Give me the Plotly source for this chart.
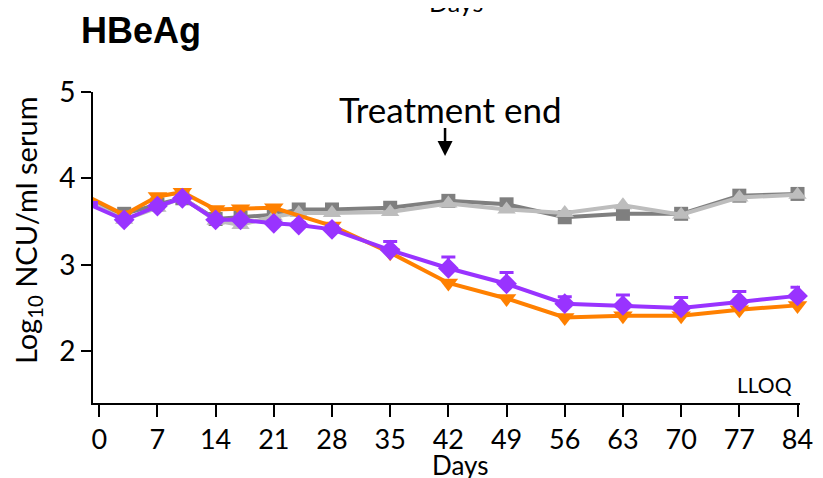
import plotly.graph_objects as go

days = [-1, 3, 7, 10, 14, 17, 21, 24, 28, 35, 42, 49, 56, 63, 70, 77, 84]

grey_dark = [3.72, 3.59, 3.70, 3.77, 3.53, 3.55, 3.58, 3.64, 3.64, 3.66, 3.74, 3.70, 3.55, 3.59, 3.59, 3.80, 3.82]
grey_light = [3.72, 3.52, 3.66, 3.78, 3.51, 3.46, 3.56, 3.60, 3.60, 3.61, 3.71, 3.64, 3.60, 3.69, 3.58, 3.78, 3.81]
orange = [3.77, 3.58, 3.79, 3.84, 3.64, 3.65, 3.66, None, 3.45, 3.14, 2.79, 2.61, 2.39, 2.41, 2.41, 2.48, 2.53]
purple = [3.69, 3.52, 3.68, 3.77, 3.52, 3.52, 3.48, 3.46, 3.41, 3.17, 2.96, 2.78, 2.55, 2.53, 2.50, 2.57, 2.64]
purple_err = [0.03, 0.03, 0.03, 0.03, 0.03, 0.03, 0.03, 0.03, 0.04, 0.10, 0.13, 0.13, 0.08, 0.12, 0.12, 0.12, 0.10]

x_ticks = [0, 7, 14, 21, 28, 35, 42, 49, 56, 63, 70, 77, 84]
y_ticks = [2, 3, 4, 5]

FONT = "Lato"

fig = go.Figure()

fig.add_trace(go.Scatter(
    x=days, y=grey_dark, mode="lines+markers", cliponaxis=False,
    line=dict(color="#7f7f7f", width=4),
    marker=dict(symbol="square", size=14, color="#7f7f7f"),
    showlegend=False))
fig.add_trace(go.Scatter(
    x=days, y=grey_light, mode="lines+markers", cliponaxis=False,
    line=dict(color="#bdbdbd", width=4),
    marker=dict(symbol="triangle-up", size=16, color="#bdbdbd"),
    showlegend=False))
fig.add_trace(go.Scatter(
    x=days, y=orange, mode="lines+markers", cliponaxis=False, connectgaps=True,
    line=dict(color="#ff8000", width=4),
    marker=dict(symbol="triangle-down", size=17, color="#ff8000"),
    showlegend=False))
fig.add_trace(go.Scatter(
    x=days, y=purple, mode="lines+markers", cliponaxis=False,
    line=dict(color="#9933ff", width=4),
    marker=dict(symbol="diamond", size=16, color="#9933ff"),
    error_y=dict(type="data", array=purple_err, arrayminus=[0] * len(purple_err),
                 symmetric=False, color="#9933ff", thickness=3, width=7),
    showlegend=False))

# page body adds an 8px offset, so the figure is sized/margined to compensate
fig.update_layout(
    width=815, height=470,
    margin=dict(l=85, r=23, t=84, b=75, autoexpand=False),
    paper_bgcolor="white", plot_bgcolor="white",
    font=dict(family=FONT, color="black"),
    xaxis=dict(
        range=[-0.75, 84.3], tickmode="array", tickvals=x_ticks,
        ticktext=[str(t) for t in x_ticks], automargin=False,
        showline=True, linecolor="black", linewidth=2,
        ticks="outside", ticklen=12, tickwidth=2, tickcolor="black",
        showgrid=False, zeroline=False,
        tickfont=dict(family=FONT, size=27, color="black"),
    ),
    yaxis=dict(
        range=[1.4, 5], tickmode="array", tickvals=y_ticks, automargin=False,
        showline=True, linecolor="black", linewidth=2,
        ticks="outside", ticklen=10, tickwidth=2, tickcolor="black",
        showgrid=False, zeroline=False,
        tickfont=dict(family=FONT, size=28, color="black"),
    ),
    annotations=[
        dict(text="<b>HBeAg</b>", xref="paper", yref="paper", x=-0.02, y=1.0,
             xanchor="left", yanchor="middle", yshift=62, showarrow=False,
             font=dict(family="Liberation Sans", size=36, color="black")),
        dict(text="Days", xref="paper", yref="paper", x=0.513, y=1.0,
             xanchor="center", yanchor="middle", yshift=90, showarrow=False,
             font=dict(family=FONT, size=25, color="black")),
        dict(text="Days", xref="paper", yref="paper", x=0.519, y=0.0,
             xanchor="center", yanchor="middle", yshift=-62, showarrow=False,
             font=dict(family=FONT, size=26, color="black")),
        dict(text="Log<sub>10</sub> NCU/ml serum", xref="paper", yref="paper",
             x=-0.0933, y=0.556, xanchor="center", yanchor="middle",
             textangle=-90, showarrow=False,
             font=dict(family=FONT, size=29, color="black")),
        dict(text="Treatment end", x=42, y=5, xref="x", yref="y",
             xanchor="center", yanchor="middle", yshift=-17, xshift=2, showarrow=False,
             font=dict(family=FONT, size=35, color="black")),
        dict(text="", x=41.6, y=4.26, xref="x", yref="y", ax=41.6, ay=4.6,
             axref="x", ayref="y", showarrow=True, arrowhead=2, arrowsize=1.2,
             arrowwidth=2.5, arrowcolor="black"),
        dict(text="LLOQ", xref="paper", yref="y", x=0.992, y=1.4,
             xanchor="right", yanchor="bottom", yshift=4, showarrow=False,
             font=dict(family=FONT, size=21, color="black")),
    ],
)

fig.write_html("out.html")
